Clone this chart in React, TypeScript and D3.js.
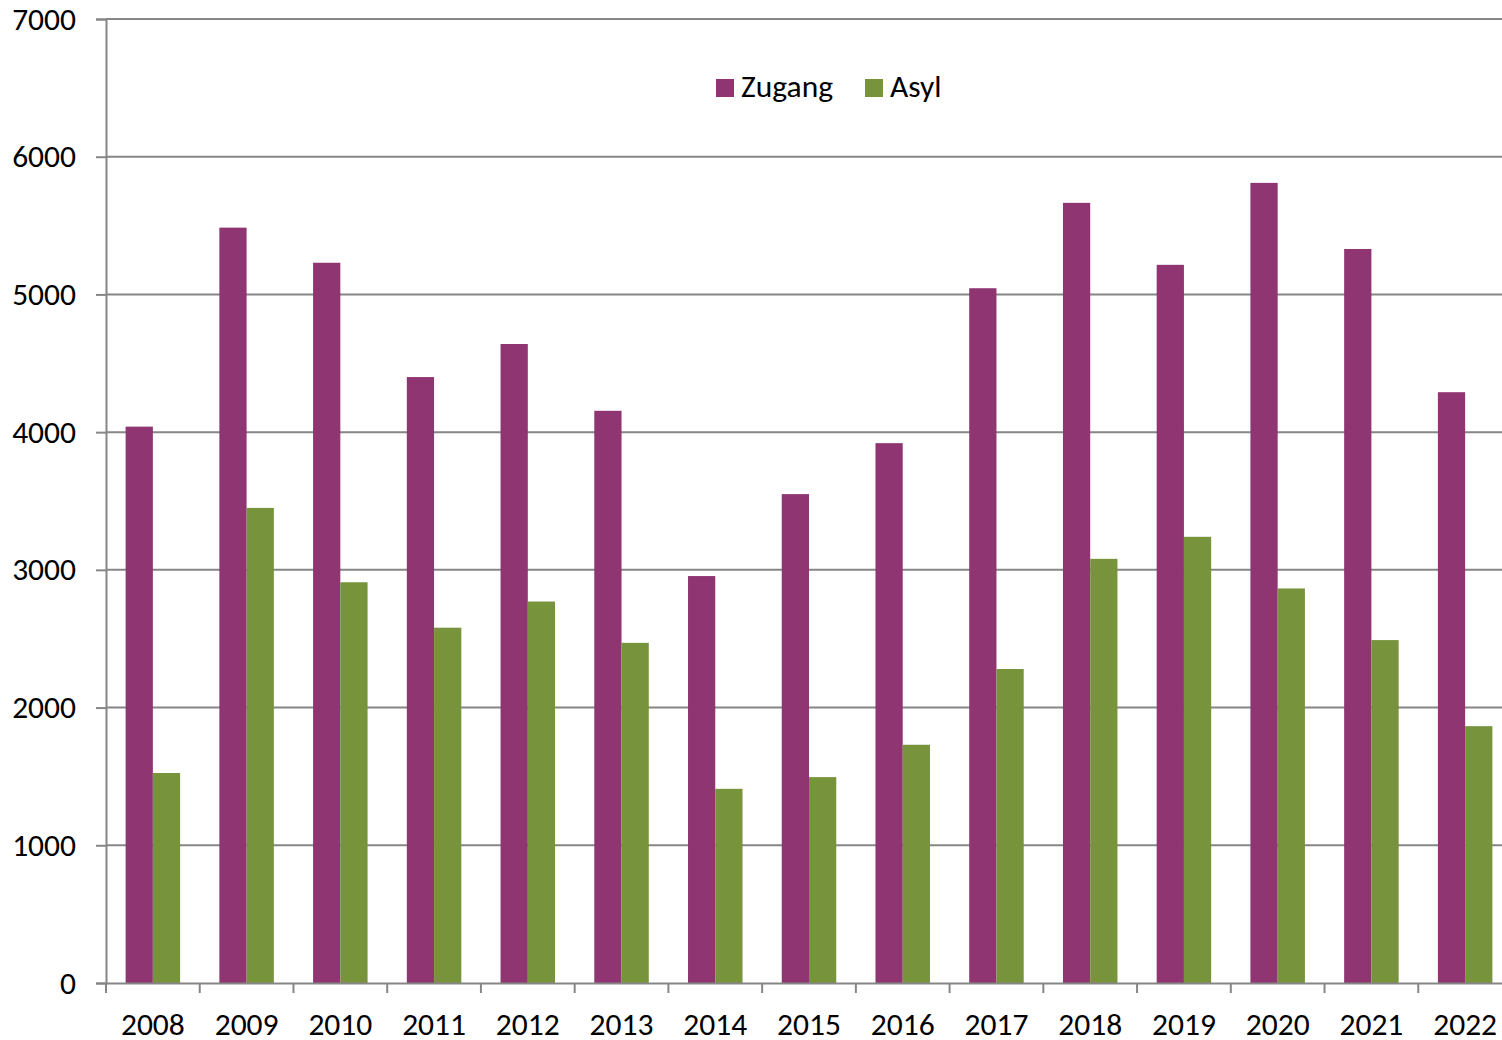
import {useEffect, useRef} from "react";
import * as d3 from "d3";

const years = ["2008", "2009", "2010", "2011", "2012", "2013", "2014", "2015", "2016", "2017", "2018", "2019", "2020", "2021", "2022"];
const zugang = [4040, 5485, 5230, 4400, 4640, 4155, 2955, 3550, 3920, 5045, 5665, 5215, 5810, 5330, 4290];
const asyl = [1525, 3450, 2910, 2580, 2770, 2470, 1410, 1495, 1730, 2280, 3080, 3240, 2865, 2490, 1865];
const yTicks = [0, 1000, 2000, 3000, 4000, 5000, 6000, 7000];
const seriesNames = ["Zugang", "Asyl"];
const colors = ["#8E3572", "#77933C"];

export default function App() {
    const chartRef = useRef<SVGSVGElement>(null);

    useEffect(() => {
        const width = 1502;
        const height = 1040;
        const plotRight = 1512; // plot area runs slightly past the picture edge
        const marginTop = 19;
        const marginBottom = 57;
        const marginLeft = 106;
        const font = "Carlito, 'Open Sans', 'DejaVu Sans', sans-serif";
        const fontSize = 31.5;

        if (!chartRef.current) return;

        const svg = d3.select(chartRef.current)
            .attr("width", width)
            .attr("height", height)
            .attr("viewBox", [0, 0, width, height]);
        svg.selectAll("*").remove();

        const xScale = d3.scaleBand<string>()
            .domain(years)
            .range([marginLeft, plotRight]);

        const xInner = d3.scaleBand<string>()
            .domain(seriesNames)
            .range([0, xScale.bandwidth()])
            .paddingOuter(0.72)
            .paddingInner(0);

        const yScale = d3.scaleLinear()
            .domain([0, 7000])
            .range([height - marginBottom, marginTop]);

        // gridlines + y labels
        const yAxis = svg.append("g")
            .attr("transform", `translate(${marginLeft},0)`)
            .call(d3.axisLeft(yScale).tickValues(yTicks).tickSize(10).tickPadding(20).tickFormat(d3.format("d")));
        yAxis.select(".domain").attr("stroke", "#868686").attr("stroke-width", 2);
        yAxis.selectAll(".tick line").attr("stroke", "#868686").attr("stroke-width", 2);
        yAxis.selectAll(".tick text")
            .attr("font-family", font)
            .attr("font-size", fontSize)
            .attr("fill", "#000");

        svg.append("g")
            .selectAll("line")
            .data(yTicks.filter(d => d > 0))
            .join("line")
            .attr("x1", marginLeft)
            .attr("x2", plotRight)
            .attr("y1", d => yScale(d))
            .attr("y2", d => yScale(d))
            .attr("stroke", "#868686")
            .attr("stroke-width", 2);

        // bars
        const groups = svg.append("g")
            .selectAll("g")
            .data(years)
            .join("g")
            .attr("transform", d => `translate(${xScale(d)},0)`);

        [zugang, asyl].forEach((values, si) => {
            groups.append("rect")
                .attr("x", xInner(seriesNames[si])!)
                .attr("width", xInner.bandwidth())
                .attr("y", (_, i) => yScale(values[i]))
                .attr("height", (_, i) => yScale(0) - yScale(values[i]))
                .attr("fill", colors[si]);
        });

        // x axis
        const xAxis = svg.append("g")
            .attr("transform", `translate(0,${height - marginBottom})`)
            .call(d3.axisBottom(xScale).tickSize(0).tickPadding(30));
        xAxis.select(".domain").attr("stroke", "#868686").attr("stroke-width", 2);
        xAxis.selectAll(".tick text")
            .attr("font-family", font)
            .attr("font-size", fontSize)
            .attr("fill", "#000");

        // category boundary ticks
        const bounds = years.map(y => xScale(y)!);
        svg.append("g")
            .selectAll("line")
            .data(bounds)
            .join("line")
            .attr("x1", d => d)
            .attr("x2", d => d)
            .attr("y1", yScale(0))
            .attr("y2", yScale(0) + 10)
            .attr("stroke", "#868686")
            .attr("stroke-width", 2);

        // legend
        const legendX = [716, 865];
        const legend = svg.append("g")
            .selectAll("g")
            .data(seriesNames)
            .join("g")
            .attr("transform", (_, i) => `translate(${legendX[i]},79)`);
        legend.append("rect")
            .attr("width", 18)
            .attr("height", 18)
            .attr("fill", (_, i) => colors[i]);
        legend.append("text")
            .attr("x", 25)
            .attr("y", 7)
            .attr("dy", "0.35em")
            .attr("font-family", font)
            .attr("font-size", fontSize)
            .attr("fill", "#000")
            .text(d => d);
    }, []);

    return (
        <>
            <style>{`body{margin:0}`}</style>
            <svg ref={chartRef} style={{display: "block"}}/>
        </>
    );
}
